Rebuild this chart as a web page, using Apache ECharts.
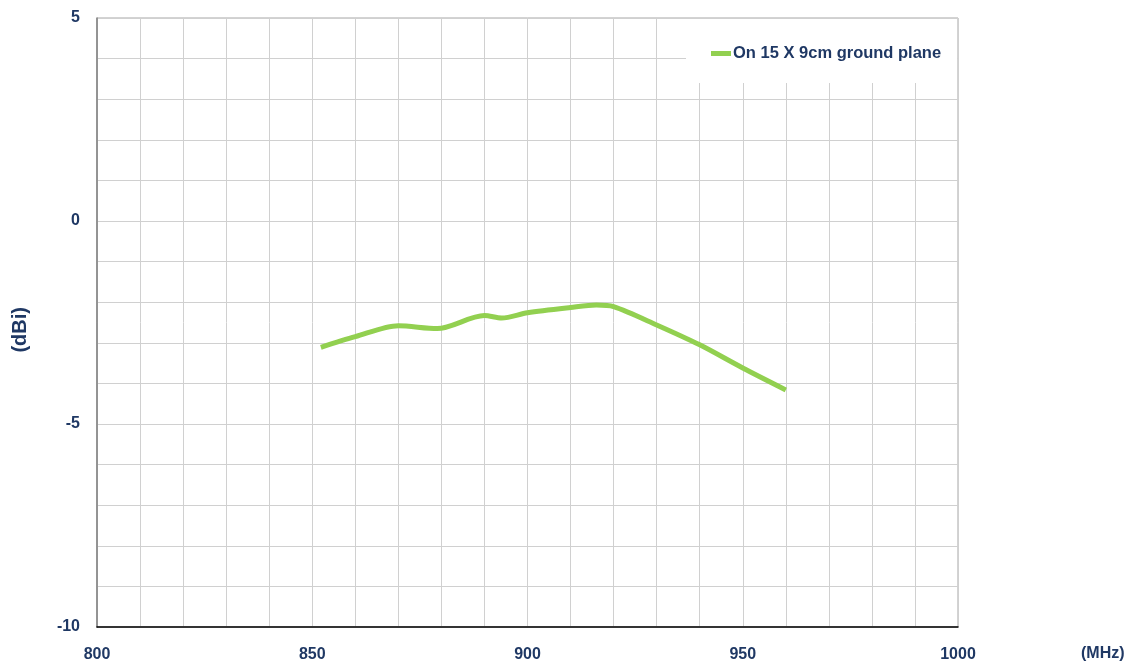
<!DOCTYPE html>
<html>
<head>
<meta charset="utf-8">
<script src="https://cdn.jsdelivr.net/npm/echarts@6/dist/echarts.min.js"></script>
<style>
  html, body { margin: 0; padding: 0; background: #fff; }
  #chart { width: 1131px; height: 670px; }
</style>
</head>
<body>
<div id="chart"></div>
<script>
// 数据
const freq = [852, 860, 870, 879, 890, 894, 900, 910, 916, 920, 930, 940, 950, 960];
const gain = [-3.11, -2.85, -2.58, -2.65, -2.33, -2.39, -2.26, -2.13, -2.07, -2.11, -2.56, -3.05, -3.62, -4.16];
const seriesName = 'On 15 X 9cm ground plane';
const xLabels = [800, 850, 900, 950, 1000];
const yLabels = [-10, -5, 0, 5];

const navy = '#1f3864';
const font = '"Liberation Sans", Arial, sans-serif';
const myChart = echarts.init(document.getElementById('chart'));

const option = {
  animation: false,
  textStyle: { fontFamily: font },
  grid: {
    left: 97, right: 173, top: 18, bottom: 43,
    show: true, borderColor: '#a6a6a6', borderWidth: 1
  },
  // 图例白底 + 轴名
  graphic: [
    { type: 'rect', left: 686, top: 19, z: 3, shape: { width: 271, height: 64 }, style: { fill: '#fff' } },
    { type: 'text', left: 1081, top: 646, style: { text: '(MHz)', fill: navy, font: 'bold 16px ' + font } },
    { type: 'text', left: 10, top: 307, rotation: Math.PI / 2, style: { text: '(dBi)', fill: navy, font: 'bold 20px ' + font } }
  ],
  legend: {
    left: 706, top: 40, z: 10,
    itemWidth: 20, itemHeight: 5, itemGap: 0,
    icon: 'rect',
    textStyle: { color: navy, fontSize: 16.5, fontWeight: 'bold', padding: [0, 0, 0, -3] },
    data: [seriesName]
  },
  xAxis: {
    type: 'value', min: 800, max: 1000, interval: 10,
    axisLine: { show: true, onZero: false, lineStyle: { color: '#000', width: 1.5 } },
    axisTick: { show: false },
    axisLabel: {
      margin: 20, color: navy, fontSize: 16, fontWeight: 'bold',
      formatter: v => xLabels.includes(v) ? String(v) : ''
    },
    splitLine: { show: true, lineStyle: { color: '#d0d0d0' } }
  },
  yAxis: {
    type: 'value', min: -10, max: 5, interval: 1,
    axisLine: { show: true, lineStyle: { color: '#7f7f7f', width: 1.5 } },
    axisTick: { show: false },
    axisLabel: {
      margin: 17, color: navy, fontSize: 16, fontWeight: 'bold',
      formatter: v => yLabels.includes(v) ? String(v) : ''
    },
    splitLine: { show: true, lineStyle: { color: '#d0d0d0' } }
  },
  series: [
    {
      name: seriesName,
      type: 'line',
      smooth: 0.3,
      showSymbol: false,
      symbol: 'none',
      color: '#92d050',
      lineStyle: { width: 5, color: '#92d050' },
      data: freq.map((f, i) => [f, gain[i]])
    }
  ]
};

myChart.setOption(option);
</script>
</body>
</html>
